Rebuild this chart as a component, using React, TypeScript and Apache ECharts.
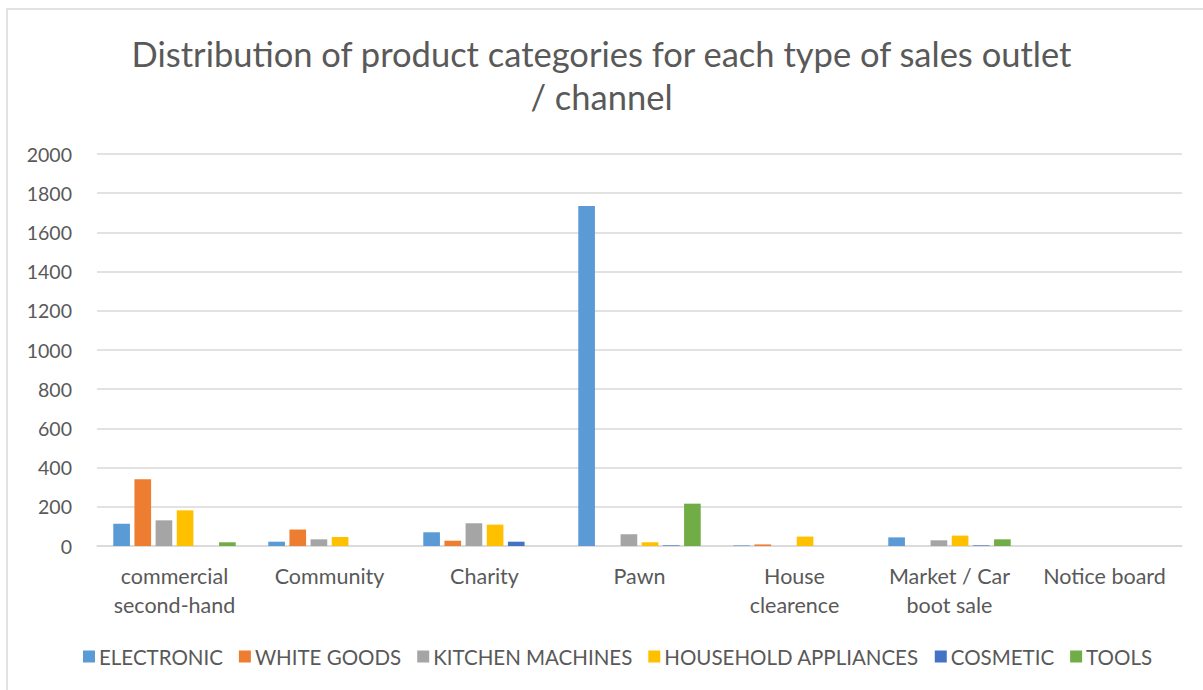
import React, { useEffect, useRef } from "react";
import * as echarts from "echarts";

const categories = [
  "commercial\nsecond-hand",
  "Community",
  "Charity",
  "Pawn",
  "House\nclearence",
  "Market / Car\nboot sale",
  "Notice board",
];
const seriesNames = [
  "ELECTRONIC",
  "WHITE GOODS",
  "KITCHEN MACHINES",
  "HOUSEHOLD APPLIANCES",
  "COSMETIC",
  "TOOLS",
];
const electronic = [114, 22, 70, 1735, 3, 44, 0];
const whiteGoods = [340, 84, 27, 0, 8, 0, 0];
const kitchenMachines = [131, 34, 116, 60, 0, 29, 0];
const householdAppliances = [182, 46, 109, 19, 48, 53, 0];
const cosmetic = [0, 0, 22, 3, 0, 3, 0];
const tools = [19, 0, 0, 216, 0, 34, 0];
const colors = ["#5b9bd5", "#ed7d31", "#a5a5a5", "#ffc000", "#4472c4", "#70ad47"];
const yTicks = [0, 200, 400, 600, 800, 1000, 1200, 1400, 1600, 1800, 2000];

export default function App() {
  const ref = useRef<HTMLDivElement>(null);
  useEffect(() => {
    if (!ref.current) return;
    const chart = echarts.init(ref.current, null, { renderer: "svg" });
    const data = [electronic, whiteGoods, kitchenMachines, householdAppliances, cosmetic, tools];
    const font = "Lato, 'Open Sans', sans-serif";
    chart.setOption({
      animation: false,
      backgroundColor: "#ffffff",
      color: colors,
      textStyle: { fontFamily: font },
      title: {
        text: "Distribution of product categories for each type of sales outlet\n/ channel",
        left: "center",
        top: 27,
        textStyle: {
          fontFamily: font,
          fontSize: 34.5,
          fontWeight: "normal",
          color: "#595959",
          lineHeight: 43,
        },
      },
      graphic: [
        {
          type: "rect",
          shape: { x: 7, y: 9, width: 1220, height: 700 },
          style: { fill: "none", stroke: "#d9d9d9", lineWidth: 1.5 },
          silent: true,
        },
      ],
      legend: {
        bottom: 18,
        left: 78,
        itemWidth: 12,
        itemHeight: 12,
        itemGap: 16,
        icon: "rect",
        textStyle: { fontFamily: font, fontSize: 20.5, color: "#595959", padding: [0, 0, 0, -1] },
        data: seriesNames,
      },
      grid: { left: 97, right: 21, top: 154, bottom: 144, containLabel: false },
      xAxis: {
        type: "category",
        data: categories,
        axisLine: { lineStyle: { color: "#d9d9d9", width: 1.5 } },
        axisTick: { show: false },
        axisLabel: {
          fontFamily: font,
          fontSize: 21.5,
          color: "#595959",
          lineHeight: 29,
          margin: 15,
          interval: 0,
        },
      },
      yAxis: {
        type: "value",
        min: 0,
        max: 2000,
        interval: 200,
        axisLine: { show: false },
        axisTick: { show: false },
        splitLine: { lineStyle: { color: "#d9d9d9", width: 1.5 } },
        axisLabel: {
          fontFamily: font,
          fontSize: 19.5,
          color: "#595959",
          margin: 25,
          formatter: (v: number) => (yTicks.includes(v) ? String(v) : ""),
        },
      },
      series: seriesNames.map((name, i) => ({
        name,
        type: "bar",
        data: data[i],
        barGap: "27%",
        barCategoryGap: "21%",
        itemStyle: { color: colors[i] },
      })),
    });
    return () => chart.dispose();
  }, []);
  return (
    <div
      ref={ref}
      style={{ position: "fixed", left: 0, top: 0, width: 1203, height: 690 }}
    />
  );
}
